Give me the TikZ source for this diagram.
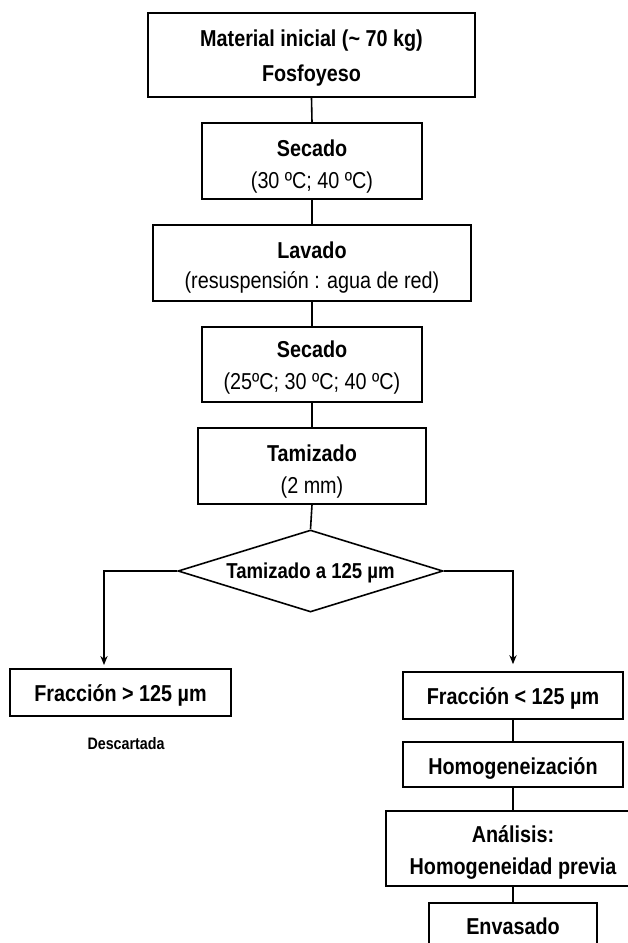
\documentclass[tikz,border=0pt]{standalone}
\usepackage{fontspec}
\setmainfont{Liberation Sans}[FakeStretch=0.86]
\usetikzlibrary{shapes.geometric,arrows.meta}
\newcommand{\padup}[1]{\rule{0pt}{#1}}
\begin{document}
\begin{tikzpicture}[x=0.5pt,y=-0.5pt,
  box/.style={draw=black,line width=0.8pt,rectangle,inner sep=0pt,align=center,
              font=\fontsize{11.5}{16}\selectfont},
  dbox/.style={draw=black,line width=0.8pt,diamond,shape aspect=3.23,inner sep=0pt,align=center,
              font=\fontsize{10.8}{13}\selectfont\bfseries},
  link/.style={draw=black,line width=0.8pt},
  arr/.style={link,-{Stealth[length=4.5pt,width=3.6pt]}}]
\useasboundingbox (0,0) rectangle (627,943);

\node[box,minimum width=163.5pt,minimum height=42pt,font=\fontsize{11.5}{17.5}\selectfont]
  (top) at (311.5,55) {\padup{11.4pt}\textbf{Material inicial (\textasciitilde{} 70 kg)}\\\textbf{Fosfoyeso}};
\node[box,minimum width=110pt,minimum height=38pt] (sec1) at (312,161)
  {\padup{13.4pt}\textbf{Secado}\\(30 ºC; 40 ºC)};
\node[box,minimum width=159pt,minimum height=38pt,font=\fontsize{11.5}{15}\selectfont] (lav) at (312,263)
  {\padup{12.4pt}\textbf{Lavado}\\(resuspensión : agua de red)};
\node[box,minimum width=110pt,minimum height=37.5pt] (sec2) at (312,364.5)
  {\padup{11.4pt}\textbf{Secado}\\(25ºC; 30 ºC; 40 ºC)};
\node[box,minimum width=114pt,minimum height=38pt] (tam) at (312,466)
  {\padup{13.9pt}\textbf{Tamizado}\\(2 mm)};
\node[dbox,minimum width=132.5pt,minimum height=41pt] (dia) at (310.5,571)
  {\padup{10pt}Tamizado a 125 µm};

\node[box,minimum width=110.5pt,minimum height=23.5pt,font=\fontsize{11.5}{16}\selectfont\bfseries]
  (fg) at (120.5,692.5) {\padup{11.4pt}Fracción > 125 µm};
\node[font=\fontsize{8.3}{10}\selectfont\bfseries,inner sep=0pt] (desc) at (126,744) {Descartada};

\node[box,minimum width=110pt,minimum height=23.5pt,font=\fontsize{11.5}{16}\selectfont\bfseries]
  (fl) at (513,695.5) {\padup{11.4pt}Fracción < 125 µm};
\node[box,minimum width=110pt,minimum height=22.5pt,font=\fontsize{11.5}{16}\selectfont\bfseries]
  (hom) at (513,764.5) {\padup{12.4pt}Homogeneización};
\node[box,minimum width=127pt,minimum height=37.5pt,font=\fontsize{11.5}{16}\selectfont\bfseries]
  (ana) at (513,848.5) {\padup{12.4pt}Análisis:\\Homogeneidad previa};
\node[box,minimum width=84pt,minimum height=23pt,font=\fontsize{11.5}{16}\selectfont\bfseries]
  (env) at (513,926) {Envasado};

\coordinate (la) at (104,665);

\draw[link] (top.south) -- (sec1.north);
\draw[link] (sec1.south) -- (lav.north);
\draw[link] (lav.south) -- (sec2.north);
\draw[link] (sec2.south) -- (tam.north);
\draw[link] (tam.south) -- (dia.north);
\draw[arr] (dia.west) -| (la);
\draw[arr,shorten >=3.5pt] (dia.east) -| (fl.north);
\draw[link] (fl.south) -- (hom.north);
\draw[link] (hom.south) -- (ana.north);
\draw[link] (ana.south) -- (env.north);
\end{tikzpicture}
\end{document}
